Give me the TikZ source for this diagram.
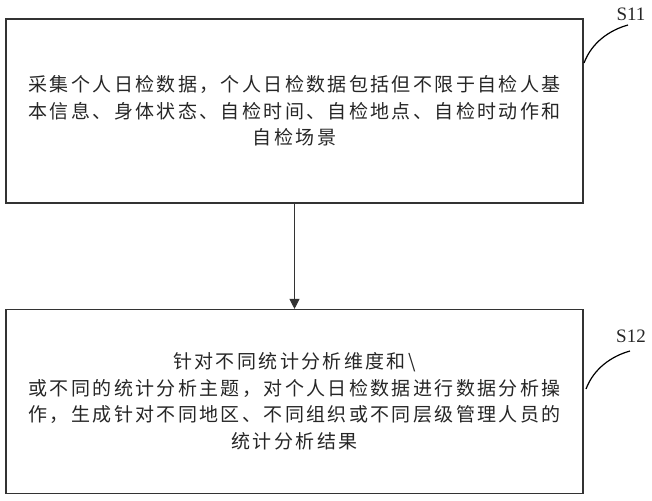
\documentclass[tikz,border=0pt]{standalone}
\usepackage{fontspec}
\setmainfont{Liberation Serif}
\newfontfamily\cjk{Noto Sans CJK SC}[LetterSpace=12.5]
\usetikzlibrary{arrows.meta}
\definecolor{ink}{HTML}{333333}
\tikzset{
  x=1pt, y=-1pt,
  stepbox/.style={draw=ink, line width=1.1pt, minimum width=577pt, minimum height=184pt, inner sep=0pt,
    align=center, font=\cjk\fontsize{19}{26.5}\selectfont, text=black!85},
  conn/.style={draw=ink, line width=1pt, -{Triangle[length=10pt,width=10pt]}},
  lbl/.style={font=\fontsize{19}{19}\selectfont, text=black!85, inner sep=0pt},
  lead/.style={draw=black, line width=1.2pt}
}
\begin{document}
\begin{tikzpicture}
\useasboundingbox (0,0) rectangle (652,500);
\node[stepbox] (s1) at (294.5,111) {采集个人日检数据，个人日检数据包括但不限于自检人基\\本信息、身体状态、自检时间、自检地点、自检时动作和\\自检场景};
\node[stepbox] (s2) at (294.5,401.5) {针对不同统计分析维度和\textbackslash\\或不同的统计分析主题，对个人日检数据进行数据分析操\\作，生成针对不同地区、不同组织或不同层级管理人员的\\统计分析结果};
\draw[conn] (s1.south) -- (s2.north);
\node[lbl] (l1) at (631,14) {S11};
\node[lbl] (l2) at (631,336) {S12};
\coordinate (c1) at (584,63);
\coordinate (c2) at (586,389);
\draw[lead] (c1) .. controls (592,42) and (610,30) .. (628,25);
\draw[lead] (c2) .. controls (594,368) and (612,356) .. (630,351);
\end{tikzpicture}
\end{document}
